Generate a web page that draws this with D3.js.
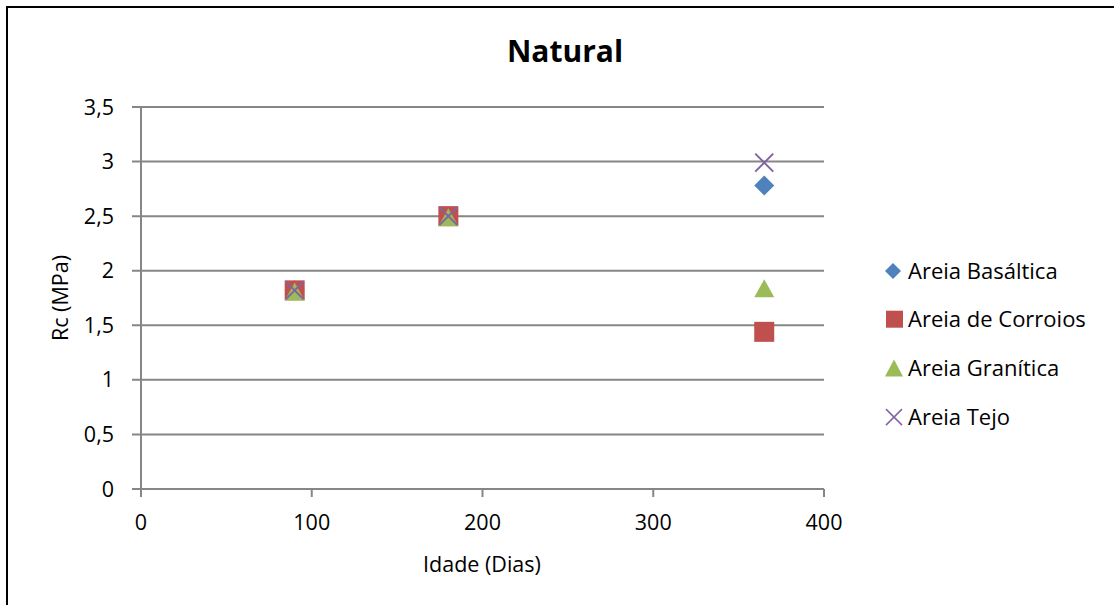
<!DOCTYPE html>
<html><head><meta charset="utf-8">
<script src="https://cdn.jsdelivr.net/npm/d3@7"></script>
<style>body{margin:0;background:#fff}svg{display:block}text{font-family:"Open Sans","Noto Sans",sans-serif;fill:#000}</style>
</head><body><svg id="c" width="1114" height="605"></svg>
<script>
const title = "Natural";
const xLabel = "Idade (Dias)";
const yLabel = "Rc (MPa)";
const xTicks = [0,100,200,300,400];
const yTicks = [0,0.5,1,1.5,2,2.5,3,3.5];
const ages = [90,180,365];
const basaltica = [1.82,2.50,2.78];
const corroios = [1.82,2.50,1.44];
const granitica = [1.80,2.48,1.83];
const tejo = [1.82,2.50,2.99];
const seriesNames = ["Areia Basáltica","Areia de Corroios","Areia Granítica","Areia Tejo"];
const seriesColors = ["#4F81BD","#C0504D","#9BBB59","#8064A2"];
const seriesData = [basaltica,corroios,granitica,tejo];
const seriesShapes = ["diamond","square","triangle","cross"];

const svg = d3.select("#c");
svg.append("rect").attr("x",7).attr("y",7).attr("width",1200).attr("height",700)
  .attr("fill","none").attr("stroke","#000").attr("stroke-width",2);

const x = d3.scaleLinear().domain([0,400]).range([141,824]);
const y = d3.scaleLinear().domain([0,3.5]).range([489,107]);
const fmt = d => String(d).replace(".",",");
const fs = 21.5;

svg.append("g").selectAll("line").data(yTicks).join("line")
  .attr("x1",132).attr("x2",824).attr("y1",d=>y(d)).attr("y2",d=>y(d))
  .attr("stroke","#868686").attr("stroke-width",2);
svg.append("line").attr("x1",141).attr("x2",141).attr("y1",107).attr("y2",489)
  .attr("stroke","#868686").attr("stroke-width",2);
svg.append("g").selectAll("line").data(xTicks).join("line")
  .attr("x1",d=>x(d)).attr("x2",d=>x(d)).attr("y1",489).attr("y2",497)
  .attr("stroke","#868686").attr("stroke-width",2);

svg.append("g").selectAll("text").data(yTicks).join("text")
  .attr("x",114).attr("y",d=>y(d)).attr("dy","0.35em").attr("text-anchor","end")
  .attr("font-size",fs).text(fmt);
svg.append("g").selectAll("text").data(xTicks).join("text")
  .attr("x",d=>x(d)).attr("y",522).attr("dy","0.35em").attr("text-anchor","middle")
  .attr("font-size",fs).text(fmt);

svg.append("text").attr("x",565).attr("y",51).attr("dy","0.35em").attr("text-anchor","middle")
  .attr("font-size",30).attr("font-weight","bold").text(title);
svg.append("text").attr("x",482).attr("y",564).attr("dy","0.35em").attr("text-anchor","middle")
  .attr("font-size",fs).text(xLabel);
svg.append("text").attr("transform","translate(60,298) rotate(-90)").attr("dy","0.35em")
  .attr("text-anchor","middle").attr("font-size",fs).text(yLabel);

function marker(g, shape, color, cx, cy){
  if(shape==="diamond"){
    g.append("path").attr("d",`M${cx},${cy-10}L${cx+10},${cy}L${cx},${cy+10}L${cx-10},${cy}Z`).attr("fill",color);
  } else if(shape==="square"){
    g.append("rect").attr("x",cx-10).attr("y",cy-10).attr("width",20).attr("height",20).attr("fill",color);
  } else if(shape==="triangle"){
    g.append("path").attr("d",`M${cx},${cy-10}L${cx+10},${cy+8}L${cx-10},${cy+8}Z`).attr("fill",color);
  } else {
    g.append("path").attr("d",`M${cx-9},${cy-9}L${cx+9},${cy+9}M${cx+9},${cy-9}L${cx-9},${cy+9}`)
      .attr("stroke",color).attr("stroke-width",2).attr("fill","none");
  }
}
const pts = svg.append("g");
seriesData.forEach((vals,i)=>{
  vals.forEach((v,j)=>marker(pts, seriesShapes[i], seriesColors[i], x(ages[j]), y(v)));
});

const leg = svg.append("g");
seriesNames.forEach((n,i)=>{
  const ly = 271 + i*48.7;
  const s = seriesShapes[i];
  const lg = leg.append("g");
  if(s==="diamond") lg.append("path").attr("d",`M893,${ly-8}L901,${ly}L893,${ly+8}L885,${ly}Z`).attr("fill",seriesColors[i]);
  else if(s==="square") lg.append("rect").attr("x",886).attr("y",ly-9).attr("width",17).attr("height",17).attr("fill",seriesColors[i]);
  else if(s==="triangle") lg.append("path").attr("d",`M894,${ly-9}L903,${ly+8}L885,${ly+8}Z`).attr("fill",seriesColors[i]);
  else lg.append("path").attr("d",`M886,${ly-8}L902,${ly+8}M902,${ly-8}L886,${ly+8}`).attr("stroke",seriesColors[i]).attr("stroke-width",1.5);
  leg.append("text").attr("x",908).attr("y",ly).attr("dy","0.35em").attr("font-size",22).text(n);
});
</script></body></html>
